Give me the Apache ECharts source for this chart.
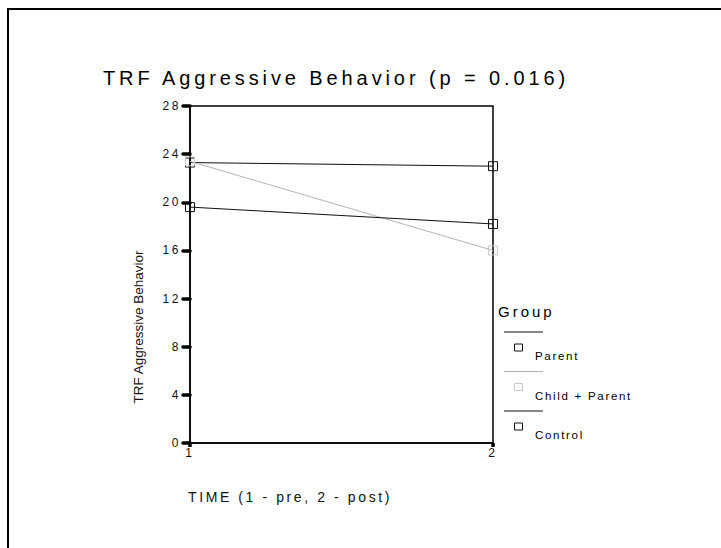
<!DOCTYPE html>
<html>
<head>
<meta charset="utf-8">
<script src="https://cdn.jsdelivr.net/npm/echarts@6/dist/echarts.min.js"></script>
<style>
  html, body { margin: 0; padding: 0; background: #fff; }
  #chart { width: 721px; height: 548px; }
  /* spaced-out lettering of the original */
  #chart text[style*="20px"] { letter-spacing: 3.9px; }
  #chart text[style*="15px"] { letter-spacing: 3px; }
  #chart text[style*="14px"] { letter-spacing: 2.6px; }
  #chart text[style*="12px"] { letter-spacing: 2.6px; }
  #chart text[style*="11.5px"] { letter-spacing: 1.7px; }
</style>
</head>
<body>
<div id="chart"></div>
<script>
const time = [1, 2]
const yTicks = [0, 4, 8, 12, 16, 20, 24, 28]
const groups = ['Parent', 'Child + Parent', 'Control']
const parent = [23.3, 23.0]
const childParent = [23.4, 16.0]
const control = [19.6, 18.2]
const values = [parent, childParent, control]
const lineColors = ['#111', '#b4b4b4', '#111']
const boxColors = ['#111', '#c8c8c8', '#111']

const FONT = 'Liberation Sans, Arial, sans-serif'

const chart = echarts.init(document.getElementById('chart'), null, { renderer: 'svg' })

// legend drawn by hand: line, box, then label below it
const legend = [{
  type: 'text', left: 498, top: 304,
  style: { text: 'Group', fontSize: 15, fontFamily: FONT, fill: '#000' }
}]
groups.forEach((name, i) => {
  const y0 = 332 + i * 39.5
  legend.push({
    type: 'line',
    shape: { x1: 504, y1: y0, x2: 543, y2: y0 },
    style: { stroke: lineColors[i], lineWidth: 1 }
  })
  legend.push({
    type: 'rect',
    shape: { x: 514.5, y: y0 + 12, width: 8, height: 7 },
    style: { fill: 'none', stroke: boxColors[i], lineWidth: 1 }
  })
  legend.push({
    type: 'text', x: 535, y: y0 + 24,
    style: { text: name, fontSize: 11.5, fontFamily: FONT, fill: '#000', verticalAlign: 'middle' }
  })
})

const option = {
  animation: false,
  backgroundColor: '#fff',
  title: {
    text: 'TRF Aggressive Behavior (p = 0.016)',
    left: 103,
    top: 68,
    padding: 0,
    textStyle: { fontSize: 20, fontWeight: 'normal', fontFamily: FONT, color: '#000' }
  },
  grid: {
    left: 190,
    right: 228,
    top: 106,
    bottom: 105,
    show: true,
    borderColor: '#000',
    borderWidth: 1.5
  },
  xAxis: {
    type: 'value',
    min: time[0],
    max: time[time.length - 1],
    interval: 1,
    splitLine: { show: false },
    axisLine: { lineStyle: { color: '#000', width: 1.5 } },
    axisTick: { show: true, length: 4, lineStyle: { color: '#000', width: 3.5 } },
    axisLabel: { margin: 4, fontSize: 12, fontFamily: FONT, color: '#111' }
  },
  yAxis: {
    type: 'value',
    min: yTicks[0],
    max: yTicks[yTicks.length - 1],
    interval: 4,
    splitLine: { show: false },
    axisLine: { show: true, lineStyle: { color: '#000', width: 1.5 } },
    axisTick: { show: true, length: 7, lineStyle: { color: '#000', width: 3.5, cap: 'round' } },
    axisLabel: { margin: 9, fontSize: 12, fontFamily: FONT, color: '#111' }
  },
  graphic: [
    {
      type: 'polyline',
      shape: { points: [[8, 548], [8, 9], [721, 9]] },
      style: { stroke: '#000', lineWidth: 2, fill: 'none' }
    },
    {
      type: 'text', x: 138, y: 327, rotation: Math.PI / 2,
      style: {
        text: 'TRF Aggressive Behavior', fontSize: 13.5, fontFamily: FONT, fill: '#111',
        align: 'center', verticalAlign: 'middle'
      }
    },
    {
      type: 'text', x: 188, y: 497,
      style: {
        text: 'TIME (1 - pre, 2 - post)', fontSize: 14, fontFamily: FONT, fill: '#111',
        verticalAlign: 'middle'
      }
    }
  ].concat(legend),
  series: groups.map((name, i) => ({
    name: name,
    type: 'line',
    data: time.map((t, j) => [t, values[i][j]]),
    symbol: 'rect',
    symbolSize: 9,
    lineStyle: { color: lineColors[i], width: 1 },
    itemStyle: { color: 'rgba(255,255,255,0)', borderColor: boxColors[i], borderWidth: 1 }
  }))
}

chart.setOption(option)
</script>
</body>
</html>
